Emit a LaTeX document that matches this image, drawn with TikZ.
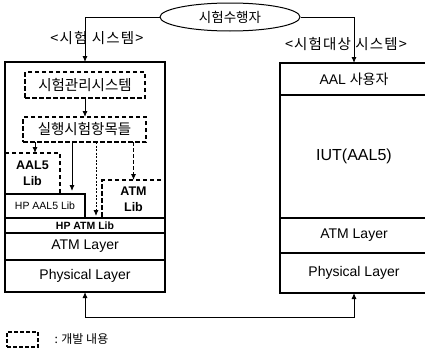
\documentclass[tikz,border=0pt]{standalone}
\usepackage{fontspec}
\setmainfont{Liberation Sans}
\newfontfamily\kr{Noto Sans CJK KR}
\newfontfamily\krs{Noto Sans CJK KR}[LetterSpace=8]
\usetikzlibrary{arrows.meta,shapes.geometric,calc}
\begin{document}
\begin{tikzpicture}[x=1pt,y=-1pt,
  box/.style={draw, line width=1.1pt, inner sep=0pt, outer sep=0pt, anchor=north west},
  dbox/.style={box, dash pattern=on 4.5pt off 2.5pt, line width=1.4pt},
  arr/.style={-{Latex[length=6pt,width=5pt]}, line width=0.9pt},
  lay/.style={font=\fontsize{14}{16}\selectfont},
  krt/.style={font=\fontsize{14.5}{16}\kr\selectfont},
  small/.style={font=\fontsize{10.5}{12}\selectfont},
  lib/.style={align=center, font=\fontsize{12.5}{16}\selectfont\bfseries},
]
\useasboundingbox (0,0) rectangle (425,356);
% tester
\node[draw, ellipse, line width=1pt, minimum width=140, minimum height=28, inner sep=0pt,
      font=\fontsize{13.5}{15}\kr\selectfont] (tester) at (230,17) {시험수행자};
% labels
\node[font=\fontsize{14.5}{16}\krs\selectfont] (llab) at (97,38) {<시험 시스템>};
\node[font=\fontsize{14.5}{16}\krs\selectfont] (rlab) at (346,44) {<시험대상 시스템>};
% left system
\node[box, minimum width=160, minimum height=230] (lsys) at (5,62) {};
\node[box, minimum width=160, minimum height=15, font=\fontsize{10.5}{12}\selectfont\bfseries] (hpatm) at (5,218) {HP ATM Lib};
\node[box, minimum width=160, minimum height=27, lay] (latm) at (5,233) {ATM Layer};
\node[box, minimum width=160, minimum height=32, lay] (lphy) at (5,260) {Physical Layer};
\node[box, minimum width=80, minimum height=24, small] (hpaal5) at (5,194) {HP AAL5 Lib};
\node[dbox, minimum width=55, minimum height=41, lib] (aal5) at (5,153) {AAL5\\Lib};
\node[dbox, minimum width=63, minimum height=38, lib] (atmlib) at (102,180) {ATM\\Lib};
\node[dbox, minimum width=120, minimum height=26, krt] (mgmt) at (25,72) {시험관리시스템};
\node[dbox, minimum width=123, minimum height=25, krt] (exec) at (23,117) {실행시험항목들};
% right system
\node[box, minimum width=148, minimum height=32, lay] (aaluser) at (280,63) {AAL {\kr 사용자}};
\node[box, minimum width=148, minimum height=123, font=\fontsize{16}{18}\selectfont] (iut) at (280,95) {IUT(AAL5)};
\node[box, minimum width=148, minimum height=35, lay] (ratm) at (280,218) {ATM Layer};
\node[box, minimum width=148, minimum height=40, lay] (rphy) at (280,253) {Physical Layer};
% connectors
\draw[arr] (tester.west) -| (lsys.north);
\draw[arr] (tester.east) -| (aaluser.north);
\draw[{Latex[length=6pt,width=5pt]}-{Latex[length=6pt,width=5pt]}, line width=0.9pt]
  (lphy.south) -- ++(0,25) -| (rphy.south);
\draw[arr] (mgmt.south) -- (mgmt.south |- exec.north);
\coordinate (a1) at ([xshift=2.5pt]aal5.north);
\draw[arr] (a1 |- exec.south) -- (a1);
\coordinate (a2) at ([xshift=-13pt]hpaal5.north east);
\draw[arr] (a2 |- exec.south) -- ([yshift=3pt]a2);
\path (hpaal5.east |- hpatm.north) ++(11,0) coordinate (a3);
\draw[arr, dash pattern=on 2pt off 1.5pt] (a3 |- exec.south) -- ([yshift=2pt]a3);
\draw[arr, dash pattern=on 4pt off 2pt] (atmlib.north |- exec.south) -- (atmlib.north);
% legend
\node[dbox, line width=1.1pt, dash pattern=on 4pt off 2pt, minimum width=31, minimum height=15] (leg) at (7,332) {};
\node[anchor=west, font=\fontsize{12}{14}\kr\selectfont] (legt) at ([xshift=13pt]leg.east) {: 개발 내용};
\end{tikzpicture}
\end{document}
